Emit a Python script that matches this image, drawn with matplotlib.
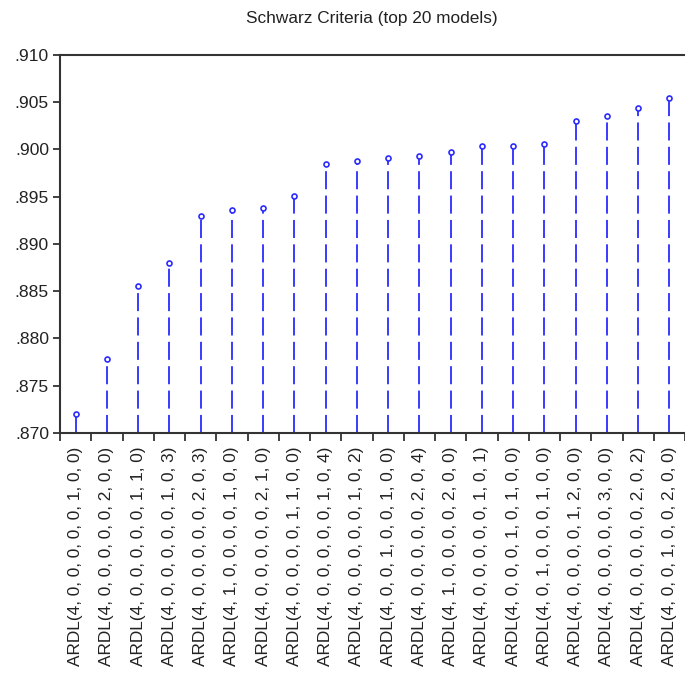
import numpy as np
import matplotlib
matplotlib.use("Agg")
import matplotlib.pyplot as plt
from matplotlib.ticker import FixedLocator, FuncFormatter

plt.rcParams["font.family"] = ["Liberation Sans", "DejaVu Sans"]

# model labels, in plotted order
models = [
    "ARDL(4, 0, 0, 0, 0, 0, 1, 0, 0)",
    "ARDL(4, 0, 0, 0, 0, 0, 2, 0, 0)",
    "ARDL(4, 0, 0, 0, 0, 0, 1, 1, 0)",
    "ARDL(4, 0, 0, 0, 0, 0, 1, 0, 3)",
    "ARDL(4, 0, 0, 0, 0, 0, 2, 0, 3)",
    "ARDL(4, 1, 0, 0, 0, 0, 1, 0, 0)",
    "ARDL(4, 0, 0, 0, 0, 0, 2, 1, 0)",
    "ARDL(4, 0, 0, 0, 0, 1, 1, 0, 0)",
    "ARDL(4, 0, 0, 0, 0, 0, 1, 0, 4)",
    "ARDL(4, 0, 0, 0, 0, 0, 1, 0, 2)",
    "ARDL(4, 0, 0, 1, 0, 0, 1, 0, 0)",
    "ARDL(4, 0, 0, 0, 0, 0, 2, 0, 4)",
    "ARDL(4, 1, 0, 0, 0, 0, 2, 0, 0)",
    "ARDL(4, 0, 0, 0, 0, 0, 1, 0, 1)",
    "ARDL(4, 0, 0, 0, 1, 0, 1, 0, 0)",
    "ARDL(4, 0, 1, 0, 0, 0, 1, 0, 0)",
    "ARDL(4, 0, 0, 0, 0, 1, 2, 0, 0)",
    "ARDL(4, 0, 0, 0, 0, 0, 3, 0, 0)",
    "ARDL(4, 0, 0, 0, 0, 0, 2, 0, 2)",
    "ARDL(4, 0, 0, 1, 0, 0, 2, 0, 0)",
]

# Schwarz criterion values
sic = [
    0.8720, 0.8778, 0.8856, 0.8880, 0.8930, 0.8936, 0.8938, 0.8951, 0.8985, 0.8988,
    0.8991, 0.8993, 0.8997, 0.9004, 0.9004, 0.9006, 0.9030, 0.9035, 0.9044, 0.9054,
]

y_ticks = [0.870, 0.875, 0.880, 0.885, 0.890, 0.895, 0.900, 0.905, 0.910]
y_min, y_max = 0.870, 0.910

STEM = "#2b2bff"
AXC = "#333333"

fig = plt.figure(figsize=(6.85, 6.79), dpi=100)
ax = fig.add_axes([60 / 685, 1 - 433 / 679, 625 / 685, 378 / 679])

x = np.arange(len(sic))
ax.vlines(x, y_min, sic, colors=STEM, linestyles=(0, (10, 3.5)), linewidth=1.3)
ax.plot(x, sic, "o", color=STEM, markerfacecolor="white",
        markersize=3.6, markeredgewidth=1.2, zorder=3)

ax.set_xlim(-0.5, len(sic) - 0.5)
ax.set_ylim(y_min, y_max)

# category labels at the centres, tick marks on the boundaries
ax.set_xticks(x)
ax.set_xticklabels(models, rotation=90, fontsize=12.4, color="#222222")
ax.tick_params(axis="x", which="major", length=0, pad=10)
ax.xaxis.set_minor_locator(FixedLocator(np.arange(-0.5, len(sic), 1.0)))
ax.tick_params(axis="x", which="minor", length=6, width=1.3, color=AXC, direction="out")

ax.yaxis.set_major_locator(FixedLocator(y_ticks))
ax.yaxis.set_major_formatter(FuncFormatter(lambda v, p: f"{v:.3f}"[1:]))
ax.tick_params(axis="y", length=5, width=1.3, color=AXC, pad=3,
               labelsize=12.6, labelcolor="#222222")

for side in ["left", "bottom", "top"]:
    ax.spines[side].set_color(AXC)
    ax.spines[side].set_linewidth(1.5)
ax.spines["right"].set_visible(False)

fig.text(372 / 685, 1 - 18 / 679, "Schwarz Criteria (top 20 models)",
         ha="center", va="center", fontsize=12.4, color="#222222")

fig.savefig("out.png", dpi=100)
